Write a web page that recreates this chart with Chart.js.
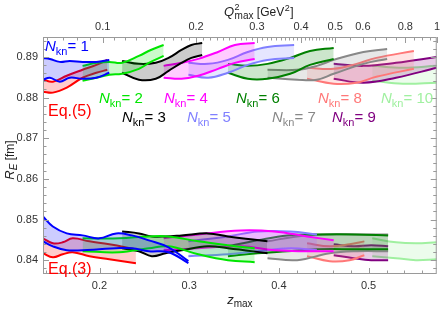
<!DOCTYPE html>
<html>
<head>
<meta charset="utf-8">
<script src="https://cdn.jsdelivr.net/npm/chart.js@4.4.0/dist/chart.umd.min.js"></script>
<style>
  html, body { margin: 0; padding: 0; background: #fff; }
  #wrap { width: 443px; height: 310px; }
</style>
</head>
<body>
<div id="wrap"><canvas id="graficoRaio" width="443" height="310"></canvas></div>
<script>
// ======== DATA =========
const nknValues = [1, 2, 3, 4, 5, 6, 7, 8, 9, 10];

// upper group, Eq.(5): z_max, upper and lower edge of each N_kn band
const eq5Z = [
  [0.137, 0.1447, 0.1557, 0.1668, 0.1811, 0.1965, 0.2109],
  [0.1811, 0.1965, 0.2109, 0.2252, 0.2439, 0.2572, 0.2715],
  [0.2252, 0.2439, 0.2627, 0.277, 0.2914, 0.3024, 0.3145],
  [0.2715, 0.2914, 0.3101, 0.3321, 0.3509, 0.373],
  [0.2991, 0.3211, 0.3432, 0.3653, 0.3873, 0.417],
  [0.3432, 0.3653, 0.3873, 0.4126, 0.4347, 0.4611],
  [0.3873, 0.4203, 0.4424, 0.4611, 0.4942, 0.5207],
  [0.4314, 0.4611, 0.4865, 0.5086, 0.5505],
  [0.4611, 0.4942, 0.5306, 0.5758],
  [0.5041, 0.5383, 0.5758]
];
const eq5Hi = [
  [0.88976, 0.88951, 0.88878, 0.88902, 0.88878, 0.88878, 0.88927],
  [0.8878, 0.88854, 0.88878, 0.88854, 0.89024, 0.89171, 0.89293],
  [0.88902, 0.88829, 0.88854, 0.88976, 0.89171, 0.89293, 0.89341],
  [0.8878, 0.88854, 0.88951, 0.89122, 0.89293, 0.89341],
  [0.88854, 0.88829, 0.88927, 0.89122, 0.89244, 0.89293],
  [0.88829, 0.8878, 0.88829, 0.88976, 0.89146, 0.8922],
  [0.88683, 0.88683, 0.8878, 0.88927, 0.89122, 0.89195],
  [0.88732, 0.88707, 0.88829, 0.88976, 0.89146],
  [0.88829, 0.8878, 0.88854, 0.89],
  [0.8878, 0.88732, 0.8878]
];
const eq5Lo = [
  [0.88439, 0.88488, 0.8839, 0.88488, 0.88463, 0.88488, 0.8861],
  [0.88415, 0.88488, 0.88561, 0.88585, 0.88707, 0.88878, 0.89024],
  [0.8861, 0.88439, 0.88463, 0.88659, 0.88854, 0.88976, 0.89049],
  [0.88488, 0.88463, 0.88537, 0.88707, 0.88854, 0.88951],
  [0.88561, 0.88488, 0.8861, 0.88805, 0.88927, 0.88976],
  [0.8861, 0.88463, 0.88463, 0.88585, 0.88805, 0.88951],
  [0.88488, 0.88439, 0.88439, 0.88585, 0.88829, 0.88951],
  [0.88463, 0.88341, 0.88366, 0.88512, 0.88707],
  [0.88463, 0.88366, 0.88488, 0.88732],
  [0.88415, 0.88341, 0.88366]
];
const eq5RedZ = [0.137, 0.148, 0.1635, 0.1811, 0.1965, 0.2087];
const eq5RedHi = [0.88439, 0.8839, 0.88537, 0.88683, 0.88805, 0.88927];
const eq5RedLo = [0.88146, 0.88122, 0.88244, 0.88488, 0.8861, 0.88683];

// lower group, Eq.(3)
const eq3Z = [
  [0.137, 0.148, 0.1635, 0.1811, 0.1998, 0.2186, 0.2362, 0.255, 0.277, 0.2991],
  [0.1811, 0.2219, 0.255, 0.277, 0.3101, 0.3432, 0.373],
  [0.2252, 0.2439, 0.2583, 0.2737, 0.2914, 0.3211, 0.3432, 0.3873],
  [0.2715, 0.3101, 0.3575, 0.395, 0.4314, 0.4611],
  [0.2991, 0.3432, 0.3763, 0.4126, 0.4424],
  [0.3432, 0.3763, 0.4093, 0.4424, 0.4865, 0.5218],
  [0.3873, 0.4203, 0.4567, 0.4865, 0.5218],
  [0.4314, 0.4567, 0.4788, 0.4953],
  [0.4611, 0.4832, 0.503, 0.5218],
  [0.5041, 0.5306, 0.5527, 0.5758]
];
const eq3Hi = [
  [0.85073, 0.84829, 0.84659, 0.8461, 0.84537, 0.84659, 0.8461, 0.84488, 0.84317, 0.83976],
  [0.84537, 0.84537, 0.84585, 0.84585, 0.84463, 0.84366, 0.84293],
  [0.84707, 0.84659, 0.84585, 0.84585, 0.8461, 0.84659, 0.84585, 0.84463],
  [0.84537, 0.84634, 0.84732, 0.84707, 0.84585, 0.84488],
  [0.84463, 0.84585, 0.84707, 0.84707, 0.84634],
  [0.84341, 0.84488, 0.8461, 0.84634, 0.84634, 0.8461],
  [0.84463, 0.84585, 0.84634, 0.84634, 0.84634],
  [0.84415, 0.84341, 0.8439, 0.84463],
  [0.8439, 0.84341, 0.84366, 0.84341],
  [0.84537, 0.84439, 0.84415, 0.84439]
];
const eq3Lo = [
  [0.84463, 0.84341, 0.84244, 0.84244, 0.84268, 0.84293, 0.84293, 0.8422, 0.84195, 0.83927],
  [0.8422, 0.84195, 0.84293, 0.84341, 0.84146, 0.84, 0.83951],
  [0.84293, 0.8422, 0.84098, 0.84171, 0.84244, 0.84341, 0.84293, 0.84171],
  [0.84244, 0.84293, 0.84341, 0.84244, 0.8422, 0.8422],
  [0.84098, 0.84146, 0.8422, 0.84293, 0.84244],
  [0.84098, 0.84171, 0.8422, 0.84268, 0.84268, 0.84268],
  [0.84049, 0.84, 0.84171, 0.8422, 0.8422],
  [0.84098, 0.83976, 0.84, 0.84122],
  [0.84122, 0.84049, 0.84, 0.84],
  [0.84098, 0.84049, 0.84, 0.84024]
];
const eq3RedZ = [0.137, 0.148, 0.159, 0.1701, 0.1888, 0.2109, 0.2406];
const eq3RedHi = [0.84537, 0.84415, 0.84439, 0.84537, 0.84463, 0.8439, 0.84268];
const eq3RedLo = [0.84171, 0.84073, 0.84146, 0.84195, 0.84098, 0.84024, 0.83927];

// tick labels
const yTicks = [0.84, 0.85, 0.86, 0.87, 0.88, 0.89];
const zTicks = [0.2, 0.3, 0.4, 0.5];
const q2Ticks = [0.1, 0.2, 0.3, 0.4, 0.5, 0.6, 0.8, 1];

// ======== STYLE =========
const bandColors = [
  [0, 0, 255], [0, 230, 0], [0, 0, 0], [255, 0, 255], [128, 128, 255],
  [0, 128, 0], [136, 136, 136], [255, 120, 120], [128, 0, 128], [160, 240, 160]
];
const red = [255, 0, 0];
const font = '"Liberation Sans", Arial, sans-serif';

function rgba(c, a) { return 'rgba(' + c[0] + ',' + c[1] + ',' + c[2] + ',' + a + ')'; }

// z = conformal variable of Q^2 (t_c = 4 m_pi^2)
const tc = 4 * 0.13957 * 0.13957;
function zOf(q2) {
  const a = Math.sqrt(tc + q2), b = Math.sqrt(tc);
  return (a - b) / (a + b);
}

function band(z, hi, lo, c) {
  return [
    {
      data: z.map((v, i) => ({ x: v, y: hi[i] })),
      borderColor: rgba(c, 1),
      backgroundColor: rgba(c, 0.2),
      borderWidth: 2,
      pointRadius: 0,
      tension: 0.4,
      fill: '+1'
    },
    {
      data: z.map((v, i) => ({ x: v, y: lo[i] })),
      borderColor: rgba(c, 1),
      borderWidth: 2,
      pointRadius: 0,
      tension: 0.4,
      fill: false
    }
  ];
}

const datasets = [];
nknValues.forEach((n, k) => {
  datasets.push(...band(eq5Z[k], eq5Hi[k], eq5Lo[k], bandColors[k]));
  datasets.push(...band(eq3Z[k], eq3Hi[k], eq3Lo[k], bandColors[k]));
});
datasets.push(...band(eq5RedZ, eq5RedHi, eq5RedLo, red));
datasets.push(...band(eq3RedZ, eq3RedHi, eq3RedLo, red));

// ======== TEXT + FRAME =========
function drawParts(ctx, parts, x, y) {
  let cx = x;
  parts.forEach(p => {
    ctx.font = p.f;
    ctx.fillText(p.t, cx, y + (p.dy || 0));
    cx += ctx.measureText(p.t).width;
  });
}
function partsWidth(ctx, parts) {
  let w = 0;
  parts.forEach(p => { ctx.font = p.f; w += ctx.measureText(p.t).width; });
  return w;
}
function nknParts(n) {
  return [
    { t: 'N', f: 'italic 15px ' + font },
    { t: 'kn', f: '11px ' + font, dy: 4 },
    { t: '= ' + n, f: '15px ' + font }
  ];
}

const labelPos = [
  [45, 51], [99, 103], [122, 122], [164, 103], [187, 122],
  [236, 103], [272, 122], [318, 103], [332, 122], [381, 103]
];

const framePlugin = {
  id: 'frame',
  afterDraw(chart) {
    const ctx = chart.ctx;
    const a = chart.chartArea;
    const sx = chart.scales.x, sy = chart.scales.y;
    ctx.save();
    ctx.strokeStyle = '#9a9a9a';
    ctx.lineWidth = 1;
    ctx.strokeRect(a.left + 0.5, a.top + 0.5, a.right - a.left - 1, a.bottom - a.top - 1);
    ctx.beginPath();
    // y ticks left & right
    for (let v = 0.838; v <= 0.8949; v += 0.002) {
      const py = Math.round(sy.getPixelForValue(v)) + 0.5;
      const major = Math.abs(v * 100 - Math.round(v * 100)) < 1e-6;
      const len = major ? 6 : 3.5;
      ctx.moveTo(a.left, py); ctx.lineTo(a.left + len, py);
      ctx.moveTo(a.right, py); ctx.lineTo(a.right - len, py);
    }
    // z ticks bottom
    for (let v = 0.14; v <= 0.576; v += 0.02) {
      const px = Math.round(sx.getPixelForValue(v)) + 0.5;
      const major = Math.abs(v * 10 - Math.round(v * 10)) < 1e-6;
      const len = major ? 6 : 3.5;
      ctx.moveTo(px, a.bottom); ctx.lineTo(px, a.bottom - len);
    }
    // Q^2 ticks top
    const minor = [];
    for (let q = 6; q < 50; q++) minor.push(q / 100);
    [0.55, 0.65, 0.7, 0.75, 0.85, 0.9, 0.95].forEach(q => minor.push(q));
    minor.forEach(q => {
      const px = Math.round(sx.getPixelForValue(zOf(q))) + 0.5;
      if (px < a.left || px > a.right) return;
      ctx.moveTo(px, a.top); ctx.lineTo(px, a.top + 3.5);
    });
    q2Ticks.forEach(q => {
      const px = Math.round(sx.getPixelForValue(zOf(q))) + 0.5;
      ctx.moveTo(px, a.top); ctx.lineTo(px, a.top + 6);
    });
    ctx.stroke();

    // labels
    ctx.textBaseline = 'alphabetic';
    ctx.textAlign = 'left';
    nknValues.forEach((n, k) => {
      ctx.fillStyle = rgba(bandColors[k], 1);
      drawParts(ctx, nknParts(n), labelPos[k][0], labelPos[k][1]);
    });
    ctx.fillStyle = rgba(red, 1);
    ctx.font = '16px ' + font;
    ctx.fillText('Eq.(5)', 48, 116);
    ctx.fillText('Eq.(3)', 48, 274);

    // axis titles
    ctx.fillStyle = '#222';
    const zt = [
      { t: 'z', f: 'italic 13px ' + font },
      { t: 'max', f: '10px ' + font, dy: 3 }
    ];
    drawParts(ctx, zt, (a.left + a.right) / 2 - partsWidth(ctx, zt) / 2, 304);

    // Q^2_max [GeV^2], superscript 2 and "max" share one slot
    ctx.font = '12px ' + font;
    let cx = 224;
    ctx.font = 'italic 13px ' + font; ctx.fillText('Q', cx, 16); cx += ctx.measureText('Q').width + 0.5;
    ctx.font = '9px ' + font; ctx.fillText('2', cx, 10);
    ctx.font = '10px ' + font; ctx.fillText('max', cx, 19); cx += ctx.measureText('max').width;
    ctx.font = '12px ' + font; ctx.fillText(' [GeV', cx, 16); cx += ctx.measureText(' [GeV').width;
    ctx.font = '9px ' + font; ctx.fillText('2', cx + 0.5, 11); cx += ctx.measureText('2').width + 1;
    ctx.font = '12px ' + font; ctx.fillText(']', cx, 16);

    ctx.translate(14, 160);
    ctx.rotate(-Math.PI / 2);
    const rt = [
      { t: 'R', f: 'italic 13px ' + font },
      { t: 'E', f: 'italic 10px ' + font, dy: 3 },
      { t: ' [fm]', f: '12px ' + font }
    ];
    drawParts(ctx, rt, -partsWidth(ctx, rt) / 2, 0);
    ctx.restore();
  }
};

// ======== GRÁFICO =========
const ctxRaio = document.getElementById('graficoRaio');
new Chart(ctxRaio, {
  type: 'line',
  data: { datasets: datasets },
  options: {
    responsive: false,
    animation: false,
    devicePixelRatio: 1,
    layout: { padding: { left: 0, right: 2, top: 0, bottom: 0 } },
    plugins: {
      legend: { display: false },
      tooltip: { enabled: false }
    },
    scales: {
      x: {
        type: 'linear',
        position: 'bottom',
        min: 0.137,
        max: 0.576,
        afterBuildTicks: s => { s.ticks = zTicks.map(v => ({ value: v })); },
        afterFit: s => { s.height = 36; },
        grid: { display: false, drawTicks: false },
        border: { display: false },
        ticks: {
          padding: 5,
          color: '#333',
          font: { family: font, size: 11 },
          maxRotation: 0,
          callback: v => v.toFixed(1)
        }
      },
      xTop: {
        type: 'linear',
        position: 'top',
        min: 0.137,
        max: 0.576,
        afterBuildTicks: s => { s.ticks = q2Ticks.map(q => ({ value: zOf(q) })); },
        afterFit: s => { s.height = 37; },
        grid: { display: false, drawTicks: false },
        border: { display: false },
        ticks: {
          padding: 3,
          color: '#333',
          font: { family: font, size: 11 },
          maxRotation: 0,
          autoSkip: false,
          callback: (v, i) => String(q2Ticks[i])
        }
      },
      y: {
        type: 'linear',
        min: 0.8366,
        max: 0.8949,
        afterBuildTicks: s => { s.ticks = yTicks.map(v => ({ value: v })); },
        afterFit: s => { s.width = 43; },
        grid: { display: false, drawTicks: false },
        border: { display: false },
        ticks: {
          padding: 5,
          color: '#333',
          font: { family: font, size: 11 },
          callback: v => v.toFixed(2)
        }
      }
    }
  },
  plugins: [framePlugin]
});
</script>
</body>
</html>
